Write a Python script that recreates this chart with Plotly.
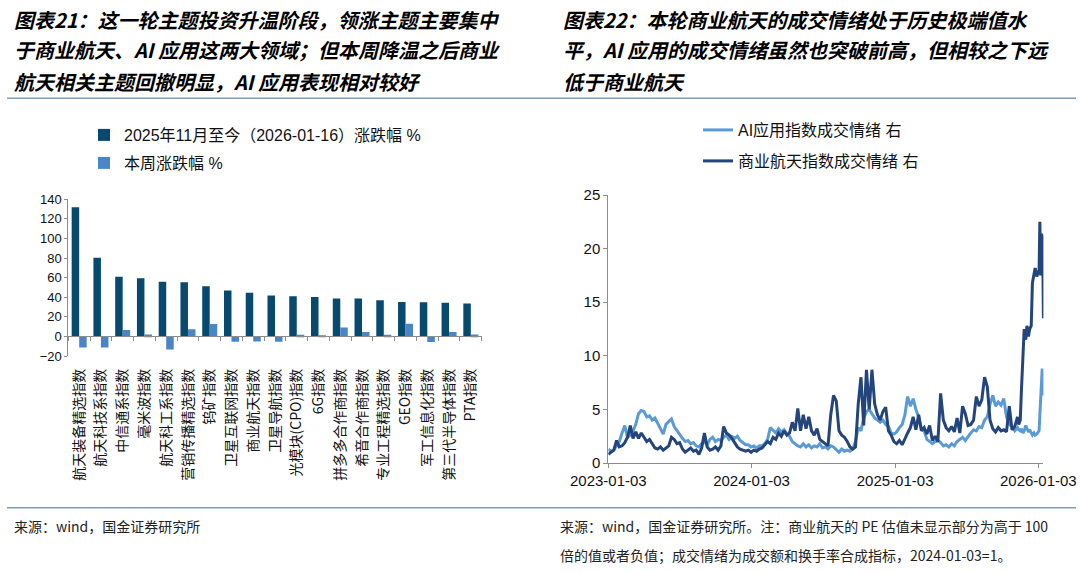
import pandas as pd
import plotly.graph_objects as go

W, H = 1080, 572

# ---------------- data: chart 21 ----------------
categories = ["航天装备精选指数", "航天科技系指数", "中信通系指数", "毫米波指数", "航天科工系指数",
              "营销传播精选指数", "钨矿指数", "卫星互联网指数", "商业航天指数", "卫星导航指数",
              "光模块(CPO)指数", "6G指数", "拼多多合作商指数", "希音合作商指数", "专业工程精选指数",
              "GEO指数", "军工信息化指数", "第三代半导体指数", "PTA指数"]
chg_since_nov = [132.0, 80.4, 61.0, 59.3, 55.9, 55.2, 51.1, 47.0, 44.6, 41.9,
                 40.9, 40.2, 38.8, 38.8, 36.8, 35.1, 34.8, 34.4, 33.7]
chg_week = [-11.2, -11.2, 6.5, 2.0, -13.3, 7.2, 12.6, -5.5, -5.1, -5.5,
            1.7, 0.7, 9.2, 4.4, 1.7, 12.9, -5.8, 4.4, 2.0]
bar_y_ticks = [-20, 0, 20, 40, 60, 80, 100, 120, 140]

# ---------------- data: chart 22 ----------------
weekly_dates = pd.date_range("2023-01-03", periods=150, freq="7D")
tail_dates = ["2025-11-14", "2025-11-18", "2025-11-21", "2025-11-25", "2025-11-28",
              "2025-12-02", "2025-12-05", "2025-12-09", "2025-12-12", "2025-12-16",
              "2025-12-19", "2025-12-23", "2025-12-26", "2025-12-30", "2026-01-05",
              "2026-01-07", "2026-01-08", "2026-01-09", "2026-01-12", "2026-01-13",
              "2026-01-14", "2026-01-15", "2026-01-16"]

ai_weekly = [1.3, 1.1, 1.2, 1.6, 2.0, 2.8, 3.5, 2.4, 2.6, 3.0,
             3.6, 4.6, 4.9, 4.8, 4.3, 4.4, 4.0, 4.2, 3.7, 3.3,
             2.7, 3.6, 3.9, 4.1, 3.4, 3.0, 2.6, 2.3, 2.0, 2.1,
             1.8, 1.9, 1.6, 1.5, 1.8, 2.0, 1.7, 2.2, 2.4, 2.0,
             2.2, 2.1, 2.4, 2.6, 2.2, 2.5, 2.3, 2.5, 2.1, 1.9,
             1.7, 1.7, 1.5, 1.6, 1.4, 1.6, 1.6, 1.8, 2.2, 3.3,
             3.0, 2.8, 3.2, 2.9, 3.1, 2.7, 2.5, 2.0, 1.8, 1.6,
             1.5, 1.8, 1.5, 1.7, 1.4, 1.6, 1.5, 1.8, 1.4, 1.5,
             1.3, 1.6, 1.5, 1.2, 1.0, 1.3, 1.1, 1.2, 1.1, 1.3,
             2.0, 3.3, 3.0, 4.2, 4.8, 5.0, 4.6, 4.2, 4.0, 3.8,
             4.0, 3.6, 3.4, 2.8, 2.7, 2.9, 3.3, 3.6, 4.5, 6.2,
             5.3, 6.0, 5.0, 4.3, 3.2, 3.0, 2.2, 2.0, 1.8, 2.0,
             2.1, 1.9, 1.6, 1.7, 1.5, 1.8, 1.6, 2.0, 2.2, 2.4,
             2.1, 2.5, 2.8, 3.1, 3.0, 3.4, 3.3, 4.0, 4.3, 5.5,
             6.3, 5.3, 5.7, 5.4, 6.0, 4.3, 3.6, 3.4, 3.0, 3.3]
ai_tail = [3.1, 3.0, 3.2, 2.8, 3.0, 3.5, 3.2, 2.9, 3.1, 2.7,
           2.6, 2.8, 2.6, 2.7, 3.0, 4.5, 5.3, 5.5, 7.0, 8.8,
           8.2, 7.0, 6.3]

space_weekly = [0.8, 1.0, 1.2, 2.1, 1.5, 1.6, 1.9, 2.4, 3.5, 2.3,
                2.9, 2.3, 2.8, 2.4, 2.0, 2.2, 1.8, 1.4, 1.3, 1.5,
                1.2, 1.4, 1.6, 2.4, 2.2, 1.8, 1.9, 1.3, 1.0, 1.2,
                1.4, 1.1, 1.2, 0.8, 1.4, 2.8, 1.5, 1.2, 1.3, 1.5,
                1.2, 1.6, 3.4, 2.8, 2.6, 2.3, 1.9, 1.5, 1.3, 1.2,
                1.1, 1.2, 1.0, 1.2, 1.1, 1.3, 1.4, 1.7, 2.0, 1.8,
                2.4, 2.2, 2.8, 2.5, 3.0, 2.6, 2.8, 3.8, 3.0, 5.1,
                3.0, 4.5, 3.2, 4.3, 3.0, 2.6, 3.2, 2.2, 2.0, 1.8,
                1.6, 4.5, 6.3, 5.8, 3.0, 2.6, 2.4, 2.0, 1.5, 1.3,
                1.5, 5.5, 8.0, 3.5, 8.7, 5.0, 8.7, 5.5, 4.5, 4.0,
                4.8, 5.2, 3.0, 2.6, 2.0, 1.8, 2.1, 1.7, 2.3, 2.8,
                3.3, 4.3, 3.1, 4.5, 3.0, 3.3, 2.7, 3.5, 2.1, 2.5,
                2.0, 6.5, 4.0, 3.3, 3.0, 3.4, 2.9, 4.2, 2.8, 5.3,
                4.6, 3.5, 3.6, 4.0, 6.2, 5.3, 5.9, 8.0, 7.1, 4.0,
                3.2, 2.9, 3.3, 3.0, 3.1, 2.9, 5.3, 3.1, 3.4, 4.3]
space_tail = [3.6, 4.0, 6.8, 10.0, 12.5, 11.5, 12.8, 11.8, 12.5, 12.8,
              16.8, 17.6, 18.2, 17.4, 18.0, 22.5, 21.0, 17.5, 21.4, 19.0,
              21.2, 16.0, 13.5]

line_tickvals = ["2023-01-03", "2024-01-03", "2025-01-03", "2026-01-03"]
line_range = ["2023-01-03", "2026-01-16"]

title_left = ["图表21：这一轮主题投资升温阶段，领涨主题主要集中",
              "于商业航天、AI 应用这两大领域；但本周降温之后商业",
              "航天相关主题回撤明显，AI 应用表现相对较好"]
title_right = ["图表22：本轮商业航天的成交情绪处于历史极端值水",
               "平，AI 应用的成交情绪虽然也突破前高，但相较之下远",
               "低于商业航天"]
source_left = "来源：wind，国金证券研究所"
source_right = ["来源：wind，国金证券研究所。注：商业航天的 PE 估值未显示部分为高于 100",
                "倍的值或者负值；成交情绪为成交额和换手率合成指标，2024-01-03=1。"]

# ---------------- style ----------------
FONT = "Liberation Sans, Noto Sans CJK SC, sans-serif"
CJK = "Noto Sans CJK SC, sans-serif"
DARK_BAR = "#074a6e"
LIGHT_BAR = "#4a86c6"
AI_LINE = "#5b9bd5"
SPACE_LINE = "#24457c"
AXIS = "#8c8c8c"
RULE = "#7f9fb4"


def px_x(p):
    return p / W


def px_y(p):
    return 1 - p / H


# chart 21 plot area (px)
b_x0, b_x1 = 68.3, 481.7
b_top, b_bot = 199.3, 356.0
b_ymin, b_ymax = -20, 140
b_dom_y = [px_y(b_bot), px_y(b_top)]
zero_pos = b_dom_y[0] + (0 - b_ymin) / (b_ymax - b_ymin) * (b_dom_y[1] - b_dom_y[0])

# chart 22 plot area (px)
l_x0, l_x1 = 608.3, 1043.4
l_top, l_bot = 195.0, 463.0

fig = go.Figure()

fig.add_trace(go.Bar(x=categories, y=chg_since_nov, name="2025年11月至今（2026-01-16）涨跌幅 %",
                     marker=dict(color=DARK_BAR, line=dict(width=0)), xaxis="x", yaxis="y",
                     legend="legend"))
fig.add_trace(go.Bar(x=categories, y=chg_week, name="本周涨跌幅 %",
                     marker=dict(color=LIGHT_BAR, line=dict(width=0)), xaxis="x", yaxis="y",
                     legend="legend2"))
# carrier for the category tick marks drawn on the zero line
fig.add_trace(go.Scatter(x=categories, y=[0] * len(categories), mode="none", showlegend=False,
                         hoverinfo="skip", xaxis="x2", yaxis="y"))

all_dates = list(weekly_dates.strftime("%Y-%m-%d")) + tail_dates
fig.add_trace(go.Scatter(x=all_dates, y=ai_weekly + ai_tail, mode="lines", name="AI应用指数成交情绪 右",
                         line=dict(color=AI_LINE, width=3), xaxis="x3", yaxis="y3", legend="legend3"))
fig.add_trace(go.Scatter(x=all_dates, y=space_weekly + space_tail, mode="lines", name="商业航天指数成交情绪 右",
                         line=dict(color=SPACE_LINE, width=3), xaxis="x3", yaxis="y3", legend="legend4"))

legend_common = dict(bgcolor="rgba(0,0,0,0)", borderwidth=0, xanchor="left", yanchor="middle",
                     itemclick=False, itemdoubleclick=False)

fig.update_layout(
    template="none",
    width=W, height=H, autosize=False,
    margin=dict(l=0, r=0, t=0, b=0, pad=0, autoexpand=False),
    paper_bgcolor="white", plot_bgcolor="white",
    font=dict(family=FONT, color="#111111"),
    barmode="group", bargap=0.31, bargroupgap=0.0,
    xaxis=dict(domain=[px_x(b_x0), px_x(b_x1)], anchor="y", type="category", automargin=False,
               categoryorder="array", categoryarray=categories,
               showline=False, ticks="", showgrid=False, zeroline=False,
               tickangle=-90, tickfont=dict(family=CJK, size=14, color="#111111"),
               ticklabelstandoff=9),
    xaxis2=dict(overlaying="x", anchor="free", position=zero_pos, type="category", automargin=False,
                categoryorder="array", categoryarray=categories, range=[-0.5, len(categories) - 0.5],
                showline=True, linecolor=AXIS, linewidth=1, ticks="outside", tickson="boundaries",
                ticklen=4, tickcolor=AXIS, showticklabels=False, showgrid=False, zeroline=False),
    yaxis=dict(domain=b_dom_y, anchor="x", range=[b_ymin, b_ymax], tickvals=bar_y_ticks, automargin=False,
               showline=True, linecolor=AXIS, linewidth=1, ticks="outside", ticklen=3,
               tickcolor=AXIS, showgrid=False, zeroline=False,
               tickfont=dict(size=13, color="#111111")),
    xaxis3=dict(domain=[px_x(l_x0), px_x(l_x1)], anchor="y3", type="date", range=line_range,
                tickvals=line_tickvals, ticktext=line_tickvals, showline=True, linecolor=AXIS,
                linewidth=1, ticks="outside", ticklen=4, tickcolor=AXIS, showgrid=False, automargin=False,
                zeroline=False, tickfont=dict(size=15, color="#111111")),
    yaxis3=dict(domain=[px_y(l_bot), px_y(l_top)], anchor="x3", range=[0, 25], dtick=5, automargin=False,
                showline=True, linecolor=AXIS, linewidth=1, ticks="outside", ticklen=4,
                tickcolor=AXIS, showgrid=False, zeroline=False,
                tickfont=dict(size=15, color="#111111")),
    legend=dict(x=px_x(84), y=px_y(135), font=dict(family=FONT, size=16, color="#111111"), **legend_common),
    legend2=dict(x=px_x(84), y=px_y(163), font=dict(family=FONT, size=16, color="#111111"), **legend_common),
    legend3=dict(x=px_x(698), y=px_y(130), font=dict(family=FONT, size=16, color="#111111"), **legend_common),
    legend4=dict(x=px_x(698), y=px_y(161), font=dict(family=FONT, size=16, color="#111111"), **legend_common),
    showlegend=True,
)

annotations = []
for i, line in enumerate(title_left):
    annotations.append(dict(text=f"<b><i>{line}</i></b>", x=px_x(12), y=px_y(19 + 31 * i),
                            xref="paper", yref="paper", xanchor="left", yanchor="middle",
                            showarrow=False, font=dict(family=CJK, size=20, color="#000000")))
for i, line in enumerate(title_right):
    annotations.append(dict(text=f"<b><i>{line}</i></b>", x=px_x(561), y=px_y(19 + 31 * i),
                            xref="paper", yref="paper", xanchor="left", yanchor="middle",
                            showarrow=False, font=dict(family=CJK, size=20, color="#000000")))
annotations.append(dict(text=source_left, x=px_x(12), y=px_y(526), xref="paper", yref="paper",
                        xanchor="left", yanchor="middle", showarrow=False,
                        font=dict(family=CJK, size=14, color="#222222")))
for i, line in enumerate(source_right):
    annotations.append(dict(text=line, x=px_x(558), y=px_y(526 + 29 * i), xref="paper", yref="paper",
                            xanchor="left", yanchor="middle", showarrow=False,
                            font=dict(family=CJK, size=14, color="#222222")))
fig.update_layout(annotations=annotations)

shapes = [
    dict(type="line", xref="paper", yref="paper", x0=px_x(7), x1=px_x(1076), y0=px_y(98.3), y1=px_y(98.3),
         line=dict(color=RULE, width=1.5)),
    dict(type="line", xref="paper", yref="paper", x0=px_x(7), x1=px_x(1076), y0=px_y(507.7), y1=px_y(507.7),
         line=dict(color=RULE, width=1.5)),
]
fig.update_layout(shapes=shapes)

fig.write_html("out.html", config={"displayModeBar": False},
               post_script="document.body.style.margin='0';")
